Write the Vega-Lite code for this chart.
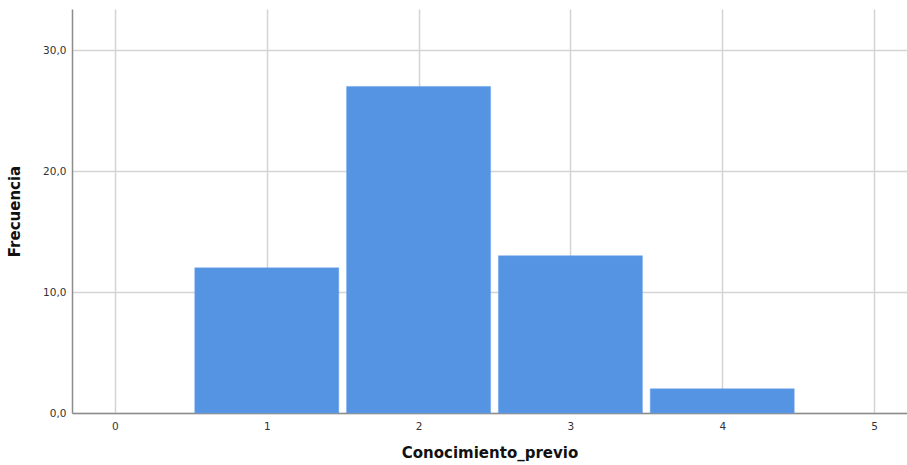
{
  "$schema": "https://vega.github.io/schema/vega-lite/v6.json",
  "autosize": {"type": "none"},
  "padding": {"left": 72, "top": 9, "right": 0, "bottom": 52},
  "width": 835,
  "height": 404,
  "background": "white",
  "config": {
    "view": {"stroke": null},
    "font": "DejaVu Sans",
    "axis": {
      "domainColor": "#8c8c8c",
      "domainWidth": 1.5,
      "gridColor": "#d4d4d4",
      "gridWidth": 1.5,
      "ticks": false,
      "labelColor": "#333333",
      "labelFontSize": 10.5,
      "labelFont": "DejaVu Sans",
      "titleFont": "DejaVu Sans",
      "titleFontSize": 15,
      "titleFontWeight": "bold",
      "titleColor": "#111111"
    }
  },
  "data": {
    "values": [
      {"Conocimiento_previo": 1, "Frecuencia": 12},
      {"Conocimiento_previo": 2, "Frecuencia": 27},
      {"Conocimiento_previo": 3, "Frecuencia": 13},
      {"Conocimiento_previo": 4, "Frecuencia": 2}
    ]
  },
  "mark": {"type": "bar", "size": 144, "color": "#5594e3", "stroke": "#6aa3ea", "strokeWidth": 0.5},
  "encoding": {
    "x": {
      "field": "Conocimiento_previo",
      "type": "quantitative",
      "scale": {"domain": [-0.283, 5.217], "nice": false, "zero": false, "padding": 0},
      "axis": {
        "values": [0, 1, 2, 3, 4, 5],
        "format": "d",
        "labelPadding": 8,
        "title": "Conocimiento_previo",
        "titlePadding": 14
      }
    },
    "y": {
      "field": "Frecuencia",
      "type": "quantitative",
      "scale": {"domain": [0, 33.4], "nice": false, "padding": 0},
      "axis": {
        "values": [0, 10, 20, 30],
        "labelExpr": "replace(format(datum.value, '.1f'), '.', ',')",
        "labelPadding": 6,
        "title": "Frecuencia",
        "titlePadding": 20
      }
    }
  }
}
